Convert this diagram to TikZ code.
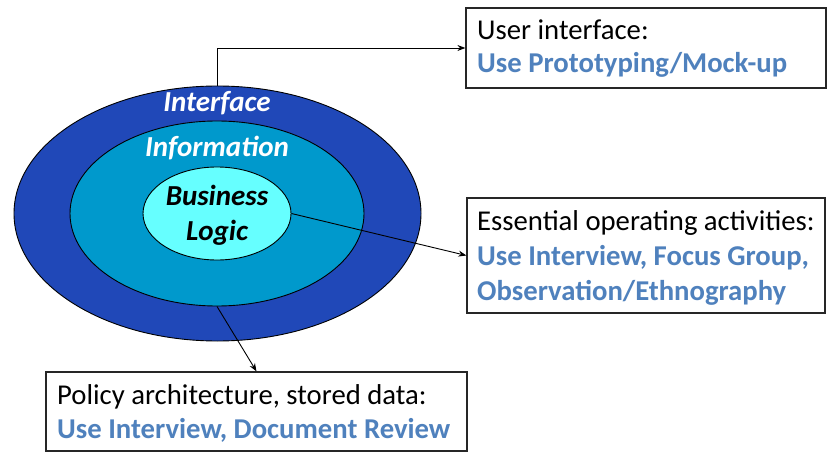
\documentclass[tikz,border=0pt]{standalone}
\usepackage{fontspec}
\setmainfont{Carlito}
\usetikzlibrary{shapes.geometric,arrows.meta}
\definecolor{outerblue}{RGB}{32,72,184}
\definecolor{midblue}{RGB}{0,153,204}
\definecolor{innercyan}{RGB}{102,255,255}
\definecolor{txtblue}{RGB}{79,129,189}
\tikzset{
  ring/.style={ellipse, draw=black, line width=0.9pt, inner sep=0pt},
  lbl/.style={font=\fontsize{29}{35}\selectfont\bfseries\itshape, inner sep=0pt, anchor=base},
  infobox/.style={draw=black!85, line width=1.2pt, fill=white, inner sep=0pt},
  boxtext/.style={align=left, inner sep=0pt, anchor=base west},
  conn/.style={line width=0.9pt, -{Stealth[length=8pt,width=6pt]}}
}
\newcommand{\bl}[1]{{\color{txtblue}\bfseries #1}}
\begin{document}
\begin{tikzpicture}[x=1pt,y=-1pt]
\useasboundingbox (0,0) rectangle (834,457);
\node[ring, fill=outerblue, minimum width=407pt, minimum height=255pt] (outer) at (217.5,213.5) {};
\node[ring, fill=midblue, minimum width=294pt, minimum height=185pt] (mid) at (217,213.5) {};
\node[ring, fill=innercyan, minimum width=148pt, minimum height=93pt] (inner) at (217,213.5) {};
\node[lbl, text=white] (tint) at (217,112) {Interface};
\node[lbl, text=white] (tinf) at (217,157) {Information};
\node[lbl, text=black] (tbus) at (217,205) {Business};
\node[lbl, text=black] (tlog) at (217,240) {Logic};
\node[infobox, minimum width=360pt, minimum height=80pt] (ubox) at (646,48) {};
\node[infobox, minimum width=358pt, minimum height=115pt] (ebox) at (646,255.5) {};
\node[infobox, minimum width=421pt, minimum height=79pt] (pbox) at (256.5,411.5) {};
\node[boxtext, font=\fontsize{28.7}{32.5}\selectfont] (utext) at (477,72.5)
  {User interface:\\\bl{Use Prototyping/Mock-up}};
\node[boxtext, font=\fontsize{28.7}{35}\selectfont] (etext) at (477,300)
  {Essential operating activities:\\\bl{Use Interview, Focus Group,}\\\bl{Observation/Ethnography}};
\node[boxtext, font=\fontsize{28.7}{34}\selectfont] (ptext) at (57,438)
  {Policy architecture, stored data:\\\bl{Use Interview, Document Review}};
\draw[conn] (outer.north) |- (ubox.west);
\draw[conn] (inner.east) -- (ebox.west);
\draw[conn] (mid.south) -- (pbox.north);
\end{tikzpicture}
\end{document}
